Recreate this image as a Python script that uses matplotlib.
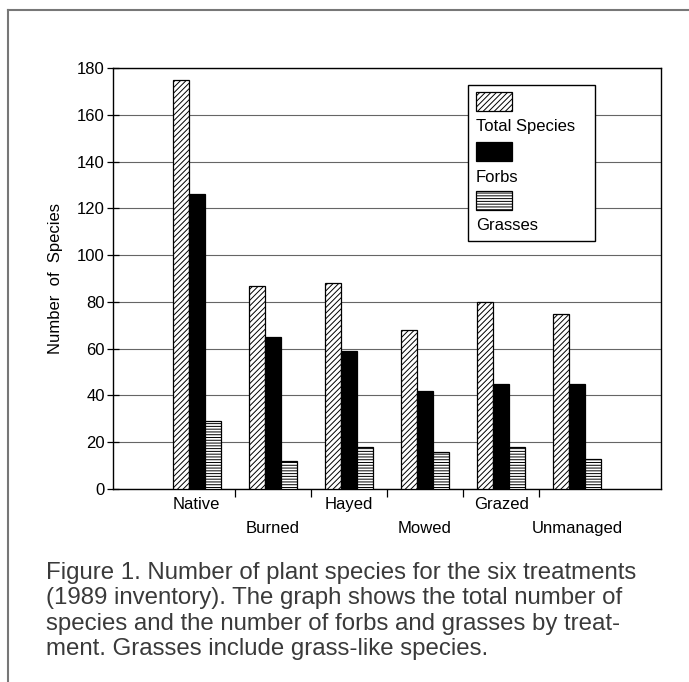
import numpy as np
import matplotlib
matplotlib.use("Agg")
import matplotlib.pyplot as plt
from matplotlib.patches import Rectangle
from matplotlib.lines import Line2D

# species counts per treatment (1989 inventory)
treatments = ["Native", "Burned", "Hayed", "Mowed", "Grazed", "Unmanaged"]
total_species = [175, 87, 88, 68, 80, 75]
forbs = [126, 65, 59, 42, 45, 45]
grasses = [29, 12, 18, 16, 18, 13]

series_names = ["Total Species", "Forbs", "Grasses"]
y_ticks = [0, 20, 40, 60, 80, 100, 120, 140, 160, 180]

caption = ("Figure 1. Number of plant species for the six treatments\n"
           "(1989 inventory). The graph shows the total number of\n"
           "species and the number of forbs and grasses by treat-\n"
           "ment. Grasses include grass-like species.")

plt.rcParams["font.family"] = ["Liberation Sans", "DejaVu Sans"]
plt.rcParams["hatch.linewidth"] = 0.7

W, H = 689, 682
fig = plt.figure(figsize=(W / 100, H / 100), dpi=100)

def px(x0, y0, x1, y1):
    # pixel box -> figure fraction [left, bottom, width, height]
    return [x0 / W, 1 - y1 / H, (x1 - x0) / W, (y1 - y0) / H]

ax = fig.add_axes(px(113, 68, 661, 489))

x = np.arange(len(treatments))
bw = 0.21
styles = [
    dict(facecolor="white", hatch="//////"),
    dict(facecolor="black", hatch=None),
    dict(facecolor="white", hatch="------"),
]
for i, vals in enumerate([total_species, forbs, grasses]):
    ax.bar(x + (i - 1) * bw, vals, width=bw, edgecolor="black", linewidth=0.9,
           zorder=3, **styles[i])

ax.set_xlim(-1.1, 6.1)
ax.set_ylim(0, 180)
ax.set_yticks(y_ticks)
ax.tick_params(axis="y", direction="inout", length=8, width=0.9,
               labelsize=12, pad=2)
ax.yaxis.grid(True, color="#666666", linewidth=0.8, zorder=0)

# boundary ticks between treatment groups
ax.set_xticks(x[:-1] + 0.5)
ax.set_xticklabels([])
ax.tick_params(axis="x", direction="out", length=6, width=0.9)
for i, name in enumerate(treatments):
    yoff = -0.038 if i % 2 == 0 else -0.093
    ax.text(i, yoff, name, transform=ax.get_xaxis_transform(),
            ha="center", va="center", fontsize=12)

for s in ax.spines.values():
    s.set_linewidth(1.0)

ax.set_ylabel("Number  of  Species", fontsize=12, labelpad=10)

# legend box with swatches stacked above their labels
def axf(px_x, px_y):
    return (px_x - 113) / 548, (489 - px_y) / 421

bx0, by0 = axf(468, 241)
bx1, by1 = axf(595, 85)
ax.add_patch(Rectangle((bx0, by0), bx1 - bx0, by1 - by0, transform=ax.transAxes,
                       facecolor="white", edgecolor="black", linewidth=1.0,
                       zorder=5))
sw_tops = [92, 142, 191]
for name, st, top in zip(series_names, styles, sw_tops):
    sx, sy = axf(476, top + 19)
    sx1, sy1 = axf(512, top)
    ax.add_patch(Rectangle((sx, sy), sx1 - sx, sy1 - sy, transform=ax.transAxes,
                           edgecolor="black", linewidth=0.9, zorder=6, **st))
    tx, ty = axf(476, top + 35)
    ax.text(tx, ty, name, transform=ax.transAxes, ha="left", va="center",
            fontsize=12, zorder=6)

# outer page frame (top and left edges)
fig.add_artist(Line2D([8 / W, 1], [1 - 10 / H, 1 - 10 / H], color="#777777",
                      linewidth=1.5, transform=fig.transFigure))
fig.add_artist(Line2D([8 / W, 8 / W], [1 - 10 / H, 0], color="#777777",
                      linewidth=1.5, transform=fig.transFigure))

fig.text(46 / W, 1 - 562 / H, caption, ha="left", va="top",
         fontsize=17.3, color="#3a3a3a", linespacing=1.2)

fig.savefig("out.png", dpi=100)
